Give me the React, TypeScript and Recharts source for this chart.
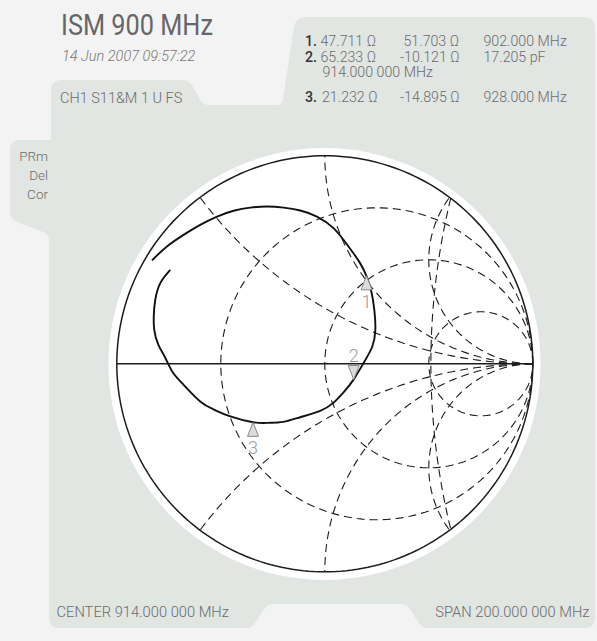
import React from "react";
import { ComposedChart, Line, Scatter, XAxis, YAxis } from "recharts";

// Smith chart grid (normalised to Z0)
const Z0 = 50;
const resistanceCircles = [1 / 3, 1, 3];
const reactanceArcs = [0.5, 1, 2, -0.5, -1, -2];
// the drawing also has one wide dashed arc near Re = 0.5: [centre, radius]
const extraArcs = [[3.87, 3.36]];

// S11 trace, as reflection coefficient (re, im)
const traceRe = [
    -0.831, -0.759, -0.679, -0.599, -0.518, -0.438, -0.358, -0.278, -0.198, -0.118,
    -0.038, 0.042, 0.114, 0.166, 0.2, 0.224, 0.238, 0.243, 0.228, 0.19,
    0.139, 0.089, 0.041, -0.022, -0.118, -0.2, -0.272, -0.345, -0.454, -0.531,
    -0.599, -0.679, -0.733, -0.767, -0.8, -0.82, -0.822, -0.815, -0.791, -0.743,
];
const traceIm = [
    0.497, 0.564, 0.62, 0.668, 0.708, 0.736, 0.751, 0.756, 0.751, 0.737,
    0.708, 0.652, 0.564, 0.49, 0.423, 0.346, 0.26, 0.163, 0.082, 0.01,
    -0.075, -0.139, -0.188, -0.226, -0.257, -0.279, -0.284, -0.281, -0.253, -0.221,
    -0.181, -0.101, -0.038, 0.029, 0.091, 0.163, 0.236, 0.308, 0.388, 0.452,
];

// markers
const markerNames = ["1", "2", "3"];
const markerR = [47.711, 65.233, 21.232];
const markerX = [51.703, -10.121, -14.895];
const markerThird = ["902.000 MHz", "17.205 pF", "928.000 MHz"];
const markerPointsDown = [false, true, false];

// geometry of the picture
const CX = 324.5;
const CY = 364;
const UNIT = 208;
const SPAN = 1.1;

const TEXT = "#6b6b6b";
const INK = "#1c1c1c";
const FONT = "Roboto, 'Noto Sans', sans-serif";

function arc(cx: number, cy: number, rad: number, a0: number, a1: number, n = 140) {
    const pts = [];
    for (let i = 0; i <= n; i++) {
        const a = a0 + ((a1 - a0) * i) / n;
        pts.push({ x: cx + rad * Math.cos(a), y: cy + rad * Math.sin(a) });
    }
    return pts;
}

function reactancePoints(xv: number) {
    const k = Math.abs(xv);
    const c = 1 / k;
    const ex = (k * k - 1) / (k * k + 1);
    const ey = (2 * k) / (k * k + 1);
    let end = Math.atan2(ey - c, ex - 1);
    if (end > -Math.PI / 2) end -= 2 * Math.PI;
    const pts = arc(1, c, c, -Math.PI / 2, end);
    return xv < 0 ? pts.map((p) => ({ x: p.x, y: -p.y })) : pts;
}

function extraArcPoints(c: number, r: number) {
    const ix = (1 + c * c - r * r) / (2 * c);
    const iy = Math.sqrt(1 - ix * ix);
    const a = Math.atan2(iy, ix - c);
    return arc(c, 0, r, a, 2 * Math.PI - a);
}

const outerCircle = arc(0, 0, 1, 0, 2 * Math.PI, 240);
const realAxis = [{ x: -1, y: 0 }, { x: 1, y: 0 }];
const trace = traceRe.map((re, i) => ({ x: re, y: traceIm[i] }));

const markers = markerNames.map((name, i) => {
    const zr = markerR[i] / Z0;
    const zi = markerX[i] / Z0;
    // gamma = (z - 1) / (z + 1)
    const d = (zr + 1) * (zr + 1) + zi * zi;
    return {
        name,
        down: markerPointsDown[i],
        x: ((zr - 1) * (zr + 1) + zi * zi) / d,
        y: (zi * (zr + 1) - (zr - 1) * zi) / d,
    };
});

function MarkerShape(props: any) {
    const { cx, cy, payload } = props;
    const s = payload.down ? -1 : 1;
    const tip = `${cx},${cy} ${cx - 5.5},${cy + s * 14} ${cx + 5.5},${cy + s * 14}`;
    return (
        <g>
            <polygon points={tip} fill="#dcdcdc" stroke="#8a8a8a" strokeWidth={1} />
            <text
                x={cx}
                y={payload.down ? cy - 18 : cy + 32}
                textAnchor="middle"
                fontFamily={FONT}
                fontWeight={300}
                fontSize={18}
                fill="#999999"
            >
                {payload.name}
            </text>
        </g>
    );
}

const dash = "8 5";

export default function App() {
    const size = 2 * SPAN * UNIT;
    const rows = [
        { n: "1.", a: `${markerR[0].toFixed(3)} Ω`, b: `${markerX[0].toFixed(3)} Ω`, c: markerThird[0], y: 46 },
        { n: "2.", a: `${markerR[1].toFixed(3)} Ω`, b: `${markerX[1].toFixed(3)} Ω`, c: markerThird[1], y: 62 },
        { n: "3.", a: `${markerR[2].toFixed(3)} Ω`, b: `${markerX[2].toFixed(3)} Ω`, c: markerThird[2], y: 102 },
    ];

    return (
        <div style={{ position: "absolute", left: 0, top: 0, width: 597, height: 641, background: "#f3f3f3", overflow: "hidden" }}>
            {/* panel background */}
            <svg width={597} height={641} style={{ position: "absolute", left: 0, top: 0 }}>
                <path
                    d="M 61 80 L 182 80 Q 190 80 193 87 L 200 100 Q 203 105 209 105 L 276 105 Q 282 105 283 99 L 294 27 Q 296 17 306 17 L 583 17 Q 595 17 595 29 L 595 618 Q 595 628 585 628 L 428 628 Q 422 628 419 623 L 409 608 Q 406 604 400 604 L 274 604 Q 268 604 265 608 L 255 623 Q 252 628 246 628 L 59 628 Q 49 628 49 618 L 49 240 Q 49 234 43 232 L 17 222 Q 10 219 10 211 L 10 150 Q 10 140 20 140 L 51 140 L 51 90 Q 51 80 61 80 Z"
                    fill="#e1e6e3"
                />
                <circle cx={CX} cy={CY} r={UNIT + 8} fill="#ffffff" />
            </svg>

            <div style={{ position: "absolute", left: CX - SPAN * UNIT, top: CY - SPAN * UNIT }}>
                <ComposedChart width={size} height={size} margin={{ top: 0, right: 0, bottom: 0, left: 0 }}>
                    <XAxis type="number" dataKey="x" domain={[-SPAN, SPAN]} hide allowDataOverflow />
                    <YAxis type="number" dataKey="y" domain={[-SPAN, SPAN]} hide allowDataOverflow />

                    {resistanceCircles.map((r) => (
                        <Line
                            key={`r${r}`}
                            data={arc(r / (1 + r), 0, 1 / (1 + r), 0, 2 * Math.PI, 200)}
                            dataKey="y"
                            type="linear"
                            stroke={INK}
                            strokeWidth={1.1}
                            strokeDasharray={dash}
                            dot={false}
                            isAnimationActive={false}
                        />
                    ))}
                    {reactanceArcs.map((xv) => (
                        <Line
                            key={`x${xv}`}
                            data={reactancePoints(xv)}
                            dataKey="y"
                            type="linear"
                            stroke={INK}
                            strokeWidth={1.1}
                            strokeDasharray={dash}
                            dot={false}
                            isAnimationActive={false}
                        />
                    ))}
                    {extraArcs.map(([c, r]) => (
                        <Line
                            key={`e${c}`}
                            data={extraArcPoints(c, r)}
                            dataKey="y"
                            type="linear"
                            stroke={INK}
                            strokeWidth={1.1}
                            strokeDasharray={dash}
                            dot={false}
                            isAnimationActive={false}
                        />
                    ))}
                    <Line data={realAxis} dataKey="y" type="linear" stroke={INK} strokeWidth={1.4} dot={false} isAnimationActive={false} />
                    <Line data={outerCircle} dataKey="y" type="linear" stroke={INK} strokeWidth={1.5} dot={false} isAnimationActive={false} />
                    <Line data={trace} dataKey="y" type="natural" stroke="#111" strokeWidth={1.9} dot={false} isAnimationActive={false} />
                    <Scatter data={markers} dataKey="y" shape={<MarkerShape />} isAnimationActive={false} />
                </ComposedChart>
            </div>

            {/* texts */}
            <svg width={597} height={641} style={{ position: "absolute", left: 0, top: 0, pointerEvents: "none" }} fontFamily={FONT}>
                <text x={61} y={34.5} fontSize={30} fontWeight={400} fill="#666" textLength={152} lengthAdjust="spacingAndGlyphs">
                    ISM 900 MHz
                </text>
                <text x={62} y={61} fontSize={14.5} fontWeight={300} fontStyle="italic" fill="#777">
                    14 Jun 2007 09:57:22
                </text>
                <text x={60} y={103} fontSize={14.5} fontWeight={300} fill={TEXT}>
                    CH1 S11&amp;M 1 U FS
                </text>

                <text x={48} y={161} fontSize={13.5} fontWeight={300} fill={TEXT} textAnchor="end">PRm</text>
                <text x={48} y={180} fontSize={13.5} fontWeight={300} fill={TEXT} textAnchor="end">Del</text>
                <text x={48} y={199} fontSize={13.5} fontWeight={300} fill={TEXT} textAnchor="end">Cor</text>

                {rows.map((r) => (
                    <g key={r.n} fontSize={14.2} fontWeight={300} fill={TEXT}>
                        <text x={305} y={r.y} fontWeight={500} fill="#333">{r.n}</text>
                        <text x={r.n === "3." ? 322 : 320.5} y={r.y}>{r.a}</text>
                        <text x={r.b.startsWith("-") ? 400 : 403.5} y={r.y}>{r.b}</text>
                        <text x={483.5} y={r.y}>{r.c}</text>
                    </g>
                ))}
                <text x={322.5} y={77} fontSize={14.2} fontWeight={300} fill={TEXT}>914.000 000 MHz</text>

                <text x={56.5} y={617} fontSize={14.7} fontWeight={300} fill={TEXT}>CENTER 914.000 000 MHz</text>
                <text x={589.5} y={617} fontSize={14.7} fontWeight={300} fill={TEXT} textAnchor="end">SPAN 200.000 000 MHz</text>
            </svg>
        </div>
    );
}
